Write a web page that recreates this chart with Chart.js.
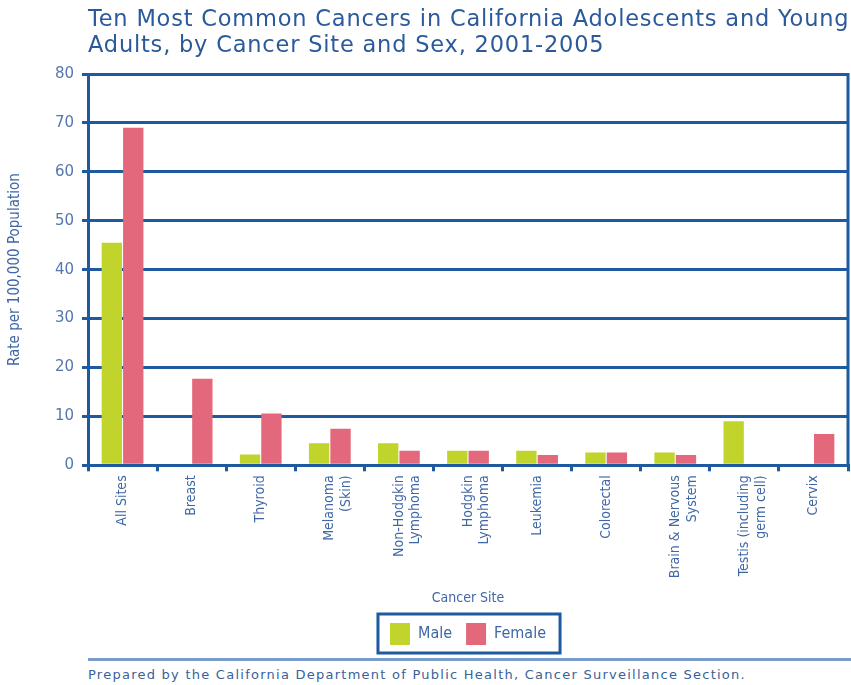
<!DOCTYPE html>
<html>
<head>
<meta charset="utf-8">
<script src="https://cdn.jsdelivr.net/npm/chart.js@4"></script>
<style>
  body { margin: 0; background: #fff; width: 851px; height: 685px; overflow: hidden; position: relative; }
  #title { position: absolute; left: 88px; top: 5px; font-family: "DejaVu Sans", sans-serif; font-size: 22.5px; line-height: 26px; color: #2b5a9c; white-space: nowrap; letter-spacing: 0.8px; }
  #wrap { position: absolute; left: 0; top: 0; width: 851px; height: 655px; }
  #rule { position: absolute; left: 88px; top: 658px; width: 763px; height: 3px; background: #7a9ccb; }
  #footer { position: absolute; left: 88px; top: 667px; font-family: "DejaVu Sans", sans-serif; font-size: 13px; letter-spacing: 1.25px; color: #3a5f9a; white-space: nowrap; }
</style>
</head>
<body>
<div id="wrap"><canvas id="bar"></canvas></div>
<div id="title">Ten Most Common Cancers in California Adolescents and Young<br>Adults, by Cancer Site and Sex, 2001-2005</div>
<div id="rule"></div>
<div id="footer">Prepared by the California Department of Public Health, Cancer Surveillance Section.</div>
<script>
const sites = [
  ['All Sites'], ['Breast'], ['Thyroid'], ['Melanoma', '(Skin)'], ['Non-Hodgkin', 'Lymphoma'],
  ['Hodgkin', 'Lymphoma'], ['Leukemia'], ['Colorectal'], ['Brain & Nervous', 'System'],
  ['Testis (including', 'germ cell)'], ['Cervix']
];
const male = [45.5, null, 2.2, 4.5, 4.5, 3.0, 3.0, 2.6, 2.6, 9.0, null];
const female = [69.0, 17.7, 10.6, 7.5, 3.0, 3.0, 2.1, 2.6, 2.1, null, 6.4];
const yTicks = [0, 10, 20, 30, 40, 50, 60, 70, 80];

const navy = '#1f5aa0';
const textBlue = '#3f67a5';

// legend sits under the plot, centred on the plot not the canvas;
// also draws the right border of the frame and the box round the legend
const framePlugin = {
  id: 'frame',
  afterLayout(chart) {
    const a = chart.chartArea;
    const lg = chart.legend;
    const shift = (a.left + a.right) / 2 - (lg.left + lg.right) / 2;
    lg.left += shift;
    lg.right += shift;
  },
  afterDraw(chart) {
    const ctx = chart.ctx;
    const a = chart.chartArea;
    ctx.save();
    ctx.strokeStyle = navy;
    ctx.lineWidth = 3;
    ctx.beginPath();
    ctx.moveTo(a.right, a.top - 1);
    ctx.lineTo(a.right, a.bottom + 1);
    ctx.stroke();
    const boxes = chart.legend.legendHitBoxes;
    if (boxes && boxes.length) {
      const l = Math.min(...boxes.map(b => b.left)) - 12;
      const r = Math.max(...boxes.map(b => b.left + b.width)) + 14;
      const t = Math.min(...boxes.map(b => b.top)) - 9;
      const btm = Math.max(...boxes.map(b => b.top + b.height)) + 8;
      ctx.strokeRect(l, t, r - l, btm - t);
    }
    ctx.restore();
  }
};

new Chart('bar', {
  type: 'bar',
  data: {
    labels: sites,
    datasets: [
      { label: 'Male', data: male, backgroundColor: '#c0d42c', borderWidth: 0 },
      { label: 'Female', data: female, backgroundColor: '#e3687b', borderWidth: 0 }
    ]
  },
  options: {
    responsive: true,
    maintainAspectRatio: false,
    animation: false,
    categoryPercentage: 0.62,
    barPercentage: 0.95,
    layout: { padding: { top: 74, right: 3, left: 0, bottom: 0 } },
    plugins: {
      tooltip: { enabled: false },
      legend: {
        position: 'bottom',
        labels: {
          color: textBlue,
          font: { family: 'DejaVu Sans Condensed', size: 16 },
          boxWidth: 20,
          boxHeight: 22,
          padding: 14
        }
      }
    },
    scales: {
      x: {
        grid: { offset: true, drawOnChartArea: false, drawTicks: true, tickLength: 6, color: navy, lineWidth: 3 },
        border: { color: navy, width: 3 },
        ticks: {
          color: textBlue,
          font: { family: 'DejaVu Sans Condensed', size: 14 },
          minRotation: 90,
          maxRotation: 90,
          padding: 4,
          autoSkip: false
        },
        title: {
          display: true,
          text: 'Cancer Site',
          color: textBlue,
          font: { family: 'DejaVu Sans Condensed', size: 14 },
          padding: { top: 8, bottom: 2 }
        }
      },
      y: {
        min: 0,
        max: 80,
        afterBuildTicks(scale) { scale.ticks = yTicks.map(v => ({ value: v })); },
        afterFit(scale) { scale.width = 88; },
        grid: { color: navy, lineWidth: 3, drawTicks: true, tickLength: 6 },
        border: { color: navy, width: 3 },
        ticks: {
          color: '#5577ad',
          font: { family: 'DejaVu Sans', size: 15 },
          padding: 8
        },
        title: {
          display: true,
          text: 'Rate per 100,000 Population',
          color: textBlue,
          font: { family: 'DejaVu Sans Condensed', size: 15 },
          padding: { top: 6, bottom: 0 }
        }
      }
    }
  },
  plugins: [framePlugin]
});
</script>
</body>
</html>
